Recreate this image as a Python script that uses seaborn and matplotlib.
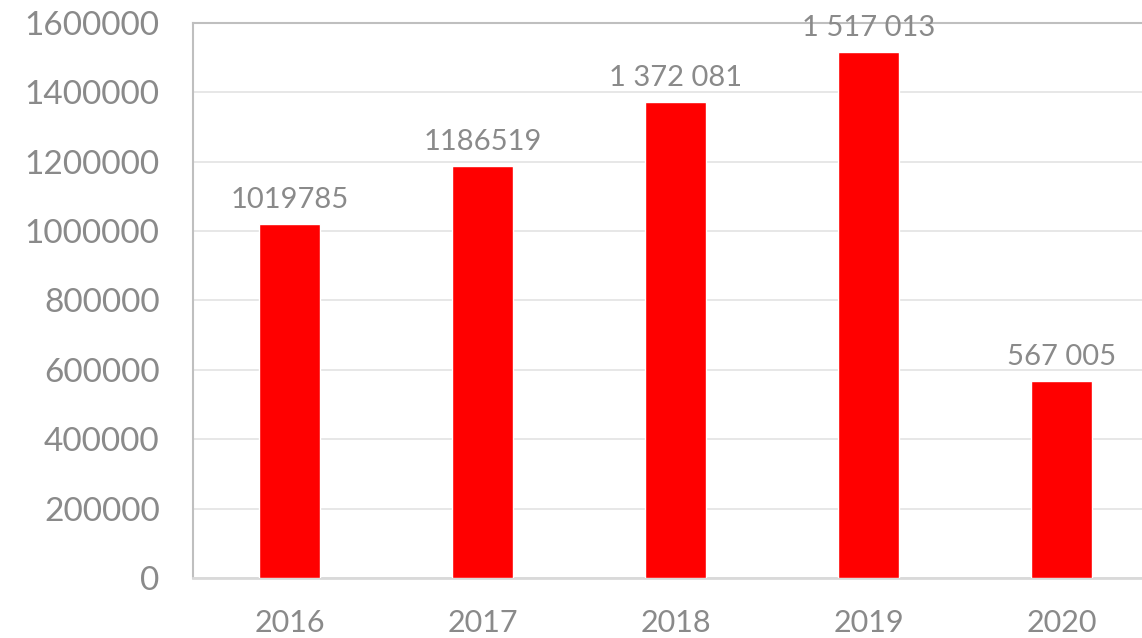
import matplotlib
matplotlib.use("Agg")
import matplotlib.pyplot as plt
import seaborn as sns
import pandas as pd

# ----- Data -----
years = ["2016", "2017", "2018", "2019", "2020"]
values = [1019785, 1186519, 1372081, 1517013, 567005]
value_labels = ["1019785", "1186519", "1 372 081", "1 517 013", "567 005"]
y_ticks = [0, 200000, 400000, 600000, 800000, 1000000, 1200000, 1400000, 1600000]

df = pd.DataFrame({"year": years, "value": values})

sns.set_theme(style="white")
plt.rcParams["font.family"] = ["Lato", "DejaVu Sans"]

text_color = "#8a8a8a"

fig = plt.figure(figsize=(11.42, 6.38), dpi=100)
ax = fig.add_axes([193 / 1142, 60 / 638, 965 / 1142, 555 / 638])

sns.barplot(data=df, x="year", y="value", color="#ff0000", width=0.316,
            saturation=1, ax=ax, zorder=3)

ax.set_ylim(0, 1600000)
ax.set_xlim(-0.5, 4.5)
ax.set_yticks(y_ticks)
ax.set_yticklabels([str(v) for v in y_ticks])
ax.set_xlabel("")
ax.set_ylabel("")

ax.grid(axis="y", color="#e3e3e3", linewidth=1.2, zorder=0)
ax.grid(axis="x", visible=False)

for side in ["left", "top"]:
    ax.spines[side].set_color("#bfbfbf")
    ax.spines[side].set_linewidth(1.5)
ax.spines["bottom"].set_color("#d9d9d9")
ax.spines["bottom"].set_linewidth(2)
ax.spines["right"].set_visible(False)

ax.tick_params(axis="both", length=0, labelcolor=text_color)
ax.tick_params(axis="y", pad=24, labelsize=24)
ax.tick_params(axis="x", pad=22, labelsize=22)

ax.bar_label(ax.containers[0], labels=value_labels, padding=8,
             fontsize=21, color=text_color)

fig.savefig("out.png", dpi=100)
